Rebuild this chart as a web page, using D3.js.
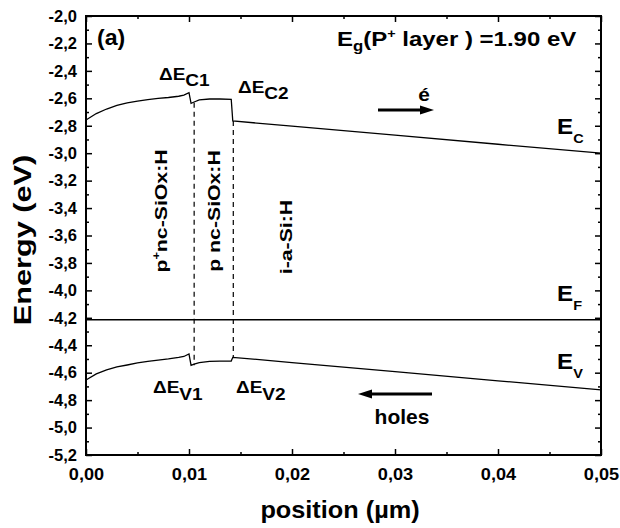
<!DOCTYPE html>
<html>
<head>
<meta charset="utf-8">
<script src="https://d3js.org/d3.v7.min.js"></script>
<style>
  body { margin: 0; background: #fff; }
  text { font-family: "Liberation Sans", Arial, sans-serif; font-weight: bold; fill: #000; }
</style>
</head>
<body>
<script>
// tick labels
const xTicks = [0, 0.01, 0.02, 0.03, 0.04, 0.05];
const yTicks = [-2.0, -2.2, -2.4, -2.6, -2.8, -3.0, -3.2, -3.4, -3.6, -3.8, -4.0, -4.2, -4.4, -4.6, -4.8, -5.0, -5.2];

// conduction band edge
const ecPos = [0, 0.001, 0.002, 0.003, 0.004, 0.005, 0.006, 0.007, 0.008, 0.009, 0.0095, 0.0100,
               0.0102, 0.0105, 0.011, 0.012, 0.013, 0.0141,
               0.01425, 0.02, 0.03, 0.04, 0.05];
const ecVal = [-2.758, -2.711, -2.678, -2.652, -2.634, -2.620, -2.609, -2.601, -2.594, -2.585, -2.576, -2.559,
               -2.636, -2.627, -2.612, -2.605, -2.605, -2.607,
               -2.765, -2.803, -2.869, -2.935, -3.000];

// valence band edge
const evPos = [0, 0.001, 0.002, 0.003, 0.004, 0.005, 0.006, 0.007, 0.008, 0.009, 0.0095, 0.0100,
               0.0102, 0.0105, 0.011, 0.012, 0.013, 0.0141,
               0.01425, 0.02, 0.03, 0.04, 0.05];
const evVal = [-4.653, -4.609, -4.580, -4.558, -4.544, -4.529, -4.518, -4.509, -4.500, -4.489, -4.482, -4.464,
               -4.546, -4.537, -4.526, -4.518, -4.516, -4.515,
               -4.488, -4.526, -4.593, -4.659, -4.726];

// Fermi level
const efVal = -4.215;

// layer interfaces (dashed)
const interfacePos = [0.0105, 0.0143];
const interfaceTop = [-2.632, -2.765];
const interfaceBottom = [-4.545, -4.490];

const W = 620, H = 528;
const svg = d3.select("body").append("svg").attr("width", W).attr("height", H);

const x = d3.scaleLinear().domain([0, 0.05]).range([86, 601]);
const y = d3.scaleLinear().domain([-5.2, -2.0]).range([455, 16]);

const fmtX = d => d3.format(".2f")(d).replace(".", ",");
const fmtY = d => d3.format(".1f")(d).replace(".", ",").replace("−", "-");

const xMinor = d3.range(0.005, 0.05, 0.01);
const yMinor = d3.range(-5.1, -2.0, 0.2);

function styleAxis(g) {
  g.select(".domain").remove();
  g.selectAll(".tick line").attr("stroke", "#000").attr("stroke-width", 1.5);
  g.selectAll(".tick text").style("font-size", "16.5px").attr("fill", "#000");
}

// axes, ticks pointing inward
svg.append("g").attr("transform", "translate(0,455)")
  .call(d3.axisBottom(x).tickValues(xTicks).tickSize(-6).tickPadding(13).tickFormat(fmtX))
  .call(styleAxis)
  .call(g => g.selectAll(".tick text").attr("transform", "scale(1.1,1)"));
svg.append("g").attr("transform", "translate(0,455)")
  .call(d3.axisBottom(x).tickValues(xMinor).tickSize(-3).tickFormat(""))
  .call(styleAxis);
svg.append("g").attr("transform", "translate(0,16)")
  .call(d3.axisTop(x).tickValues(xTicks).tickSize(-6).tickFormat(""))
  .call(styleAxis);
svg.append("g").attr("transform", "translate(0,16)")
  .call(d3.axisTop(x).tickValues(xMinor).tickSize(-3).tickFormat(""))
  .call(styleAxis);

svg.append("g").attr("transform", "translate(86,0)")
  .call(d3.axisLeft(y).tickValues(yTicks).tickSize(-6).tickPadding(9).tickFormat(fmtY))
  .call(styleAxis);
svg.append("g").attr("transform", "translate(86,0)")
  .call(d3.axisLeft(y).tickValues(yMinor).tickSize(-3).tickFormat(""))
  .call(styleAxis);
svg.append("g").attr("transform", "translate(601,0)")
  .call(d3.axisRight(y).tickValues(yTicks).tickSize(-6).tickFormat(""))
  .call(styleAxis);
svg.append("g").attr("transform", "translate(601,0)")
  .call(d3.axisRight(y).tickValues(yMinor).tickSize(-3).tickFormat(""))
  .call(styleAxis);

// frame
svg.append("rect")
  .attr("x", x(0)).attr("y", y(-2.0))
  .attr("width", x(0.05) - x(0)).attr("height", y(-5.2) - y(-2.0))
  .attr("fill", "none").attr("stroke", "#000").attr("stroke-width", 2);

// bands
const line = d3.line().x(d => x(d[0])).y(d => y(d[1]));
svg.append("path").datum(d3.zip(ecPos, ecVal))
  .attr("d", line).attr("fill", "none").attr("stroke", "#000").attr("stroke-width", 1.3);
svg.append("path").datum(d3.zip(evPos, evVal))
  .attr("d", line).attr("fill", "none").attr("stroke", "#000").attr("stroke-width", 1.3);
svg.append("line")
  .attr("x1", x(0)).attr("x2", x(0.05)).attr("y1", y(efVal)).attr("y2", y(efVal))
  .attr("stroke", "#000").attr("stroke-width", 1.5);

// interfaces
svg.selectAll(".iface").data(d3.zip(interfacePos, interfaceTop, interfaceBottom))
  .join("line").attr("class", "iface")
  .attr("x1", d => x(d[0])).attr("x2", d => x(d[0]))
  .attr("y1", d => y(d[1])).attr("y2", d => y(d[2]))
  .attr("stroke", "#000").attr("stroke-width", 1.2).attr("stroke-dasharray", "5,4");

// text helper: parts = [[text, dy, sizeFactor], ...]
function label(px, py, parts, size, sx, opts = {}) {
  const t = svg.append("text")
    .attr("transform", `translate(${px},${py}) rotate(${opts.rot || 0}) scale(${sx},1)`)
    .attr("text-anchor", opts.anchor || "start")
    .style("font-size", size + "px");
  parts.forEach(p => {
    t.append("tspan").attr("dy", p[1] || 0).style("font-size", (size * (p[2] || 1)) + "px").text(p[0]);
  });
  return t;
}

label(97, 45, [["(a)"]], 22, 1.05);
label(337, 46, [["E"], ["g", 5, 0.7], ["(P", -5], ["+", -8, 0.6], [" layer ) =1.90 eV", 8]], 20.5, 1.17);

label(159, 80, [["\u0394E"], ["C1", 6]], 17, 1.12);
label(238, 93, [["\u0394E"], ["C2", 6]], 17, 1.12);
label(153, 393, [["\u0394E"], ["V1", 7]], 17, 1.12);
label(236, 393, [["\u0394E"], ["V2", 7]], 17, 1.12);

label(557, 134, [["E"], ["C", 9, 0.6]], 22, 1.1);
label(557, 301, [["E"], ["F", 9, 0.6]], 22, 1.1);
label(557, 369, [["E"], ["V", 9, 0.6]], 22, 1.1);

label(167, 211, [["p"], ["+", -7, 0.6], ["nc-SiOx:H", 7]], 17, 1.25, { rot: -90, anchor: "middle" });
label(220, 211, [["p nc-SiOx:H"]], 17, 1.25, { rot: -90, anchor: "middle" });
label(292, 237, [["i-a-Si:H"]], 17, 1.25, { rot: -90, anchor: "middle" });

label(424, 101, [["\u00e9"]], 19, 1.1, { anchor: "middle" });
label(402, 424, [["holes"]], 20, 1.05, { anchor: "middle" });

// arrows
function arrow(x1, x2, yy) {
  const dir = Math.sign(x2 - x1);
  svg.append("line").attr("x1", x1).attr("x2", x2 - dir * 10).attr("y1", yy).attr("y2", yy)
    .attr("stroke", "#000").attr("stroke-width", 3);
  svg.append("path")
    .attr("d", `M${x2},${yy} L${x2 - dir * 14},${yy - 4.5} L${x2 - dir * 14},${yy + 4.5} Z`)
    .attr("fill", "#000");
}
arrow(378, 434, 110);
arrow(432, 358, 394);

// axis titles
label(340, 518, [["position (\u00b5m)"]], 23, 1.1, { anchor: "middle" });
label(31, 240, [["Energy (eV)"]], 24, 1.28, { rot: -90, anchor: "middle" });
</script>
</body>
</html>
